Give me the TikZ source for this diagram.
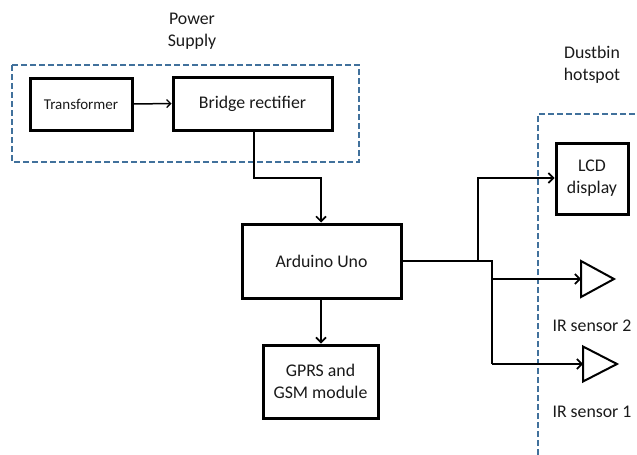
\documentclass[tikz,border=0pt]{standalone}
\usepackage{fontspec}
\setmainfont{Carlito}
\usetikzlibrary{arrows.meta}
\definecolor{dashblue}{HTML}{41719C}
\definecolor{txt}{HTML}{1A1A1A}
\begin{document}
\begin{tikzpicture}[x=1pt,y=-1pt,
  blk/.style={draw=black,line width=3pt,fill=white,inner sep=0pt,align=center,text=txt,
    font=\fontsize{17.8}{22}\selectfont},
  lbl/.style={inner sep=0pt,align=center,text=txt,font=\fontsize{17.8}{22}\selectfont},
  conn/.style={draw=black,line width=2pt},
  arr/.style={conn,-{Straight Barb[length=5pt,width=10pt,line width=1.6pt]}},
  dsh/.style={draw=dashblue,line width=2pt,dash pattern=on 6pt off 3pt},
  tri/.style={draw=black,line width=2pt,fill=white,line join=miter}]
\useasboundingbox (0,0) rectangle (637,455);
% power supply group
\draw[dsh] (12,65) rectangle (359,162);
\node[lbl] (pslbl) at (192,31) {Power\\Supply};
\node[blk,minimum width=102pt,minimum height=52pt,font=\fontsize{15}{18}\selectfont] (tr) at (81,104) {Transformer};
\node[blk,minimum width=159pt,minimum height=53pt] (br) at (252.5,103.5) {Bridge rectifier};
\node[blk,minimum width=159pt,minimum height=74pt] (ard) at (321.5,261) {Arduino Uno};
\node[blk,minimum width=115pt,minimum height=73pt] (gsm) at (320.5,381.5) {GPRS and\\GSM module};
\node[blk,minimum width=72pt,minimum height=71pt] (lcd) at (592,178.5) {LCD\\display};
% dustbin hotspot group
\draw[dsh] (538,455) -- (538,114) -- (637,114);
\node[lbl] (dblbl) at (592,65) {Dustbin\\hotspot};
% IR sensors
\coordinate (ir2) at (581,279);
\coordinate (ir1) at (583,364);
\draw[tri] (ir2) ++(0,-18) -- ++(33,18) -- ++(-33,18) -- cycle;
\draw[tri] (ir1) ++(0,-17.5) -- ++(34,17.5) -- ++(-34,17.5) -- cycle;
\node[lbl] (ir2lbl) at (592,326) {IR sensor 2};
\node[lbl] (ir1lbl) at (592,412) {IR sensor 1};
% connectors
\draw[conn,line width=1.5pt,-{Straight Barb[length=4pt,width=8pt,line width=1.3pt]}] (tr.east) -- (br.west);
\draw[arr] (br.south -| 254,0) -- (254,178) -- (321,178) -- (ard.north -| 321,0);
\draw[arr] (ard.south -| 321,0) -- (gsm.north -| 321,0);
\coordinate (j1) at (478,261);
\coordinate (j2) at (492,261);
\draw[conn] (ard.east) -- (j2) -- (492,363.5);
\draw[arr] (j1) -- (478,178) -- (lcd.west |- 0,178);
\draw[arr] (492,279) -- (ir2);
\draw[arr] (492,364) -- (ir1);
\end{tikzpicture}
\end{document}
